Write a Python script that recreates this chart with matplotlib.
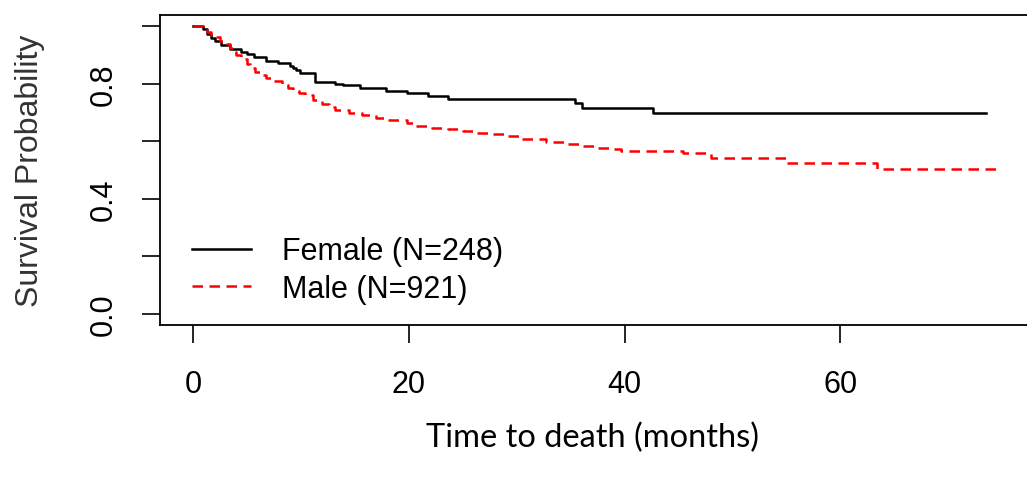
#!/usr/bin/env python3

import matplotlib
matplotlib.use('Agg')
import matplotlib.pyplot as plt

# Kaplan-Meier estimates by sex (time in months, survival probability)
female_t = [0, 0.9, 1.3, 1.7, 2.1, 2.6, 3.4, 4.5, 5.0, 5.7, 6.8, 7.9, 9.0, 9.3,
            9.6, 9.9, 11.3, 13.2, 13.9, 15.5, 17.9, 19.8, 21.8, 23.6, 35.4,
            36.1, 42.6, 73.5]
female_s = [1.0, 0.99, 0.975, 0.96, 0.95, 0.935, 0.922, 0.912, 0.905, 0.892,
            0.880, 0.874, 0.864, 0.855, 0.847, 0.838, 0.808, 0.801, 0.795,
            0.787, 0.776, 0.768, 0.757, 0.746, 0.733, 0.715, 0.697, 0.697]

male_t = [0, 0.9, 1.3, 1.7, 2.1, 2.5, 2.9, 3.4, 3.7, 4.0, 4.5, 5.0, 5.3, 5.8,
          6.2, 6.8, 7.4, 8.3, 8.8, 9.3, 9.8, 10.4, 11.1, 12.0, 12.6, 13.2,
          14.5, 15.7, 17.0, 18.2, 19.8, 20.7, 22.2, 23.6, 25.0, 26.3, 27.5,
          29.0, 30.3, 32.7, 34.5, 35.8, 37.5, 38.6, 39.7, 45.4, 48.0, 55.0,
          63.4, 75.0]
male_s = [1.0, 0.99, 0.982, 0.972, 0.962, 0.950, 0.938, 0.925, 0.912, 0.900,
          0.886, 0.870, 0.855, 0.843, 0.830, 0.820, 0.810, 0.795, 0.785, 0.775,
          0.768, 0.760, 0.744, 0.730, 0.720, 0.709, 0.700, 0.692, 0.680, 0.673,
          0.663, 0.653, 0.648, 0.642, 0.637, 0.630, 0.624, 0.618, 0.607, 0.598,
          0.590, 0.584, 0.578, 0.572, 0.566, 0.560, 0.541, 0.526, 0.502, 0.502]

labels = ['Female (N=248)', 'Male (N=921)']
xticks = [0, 20, 40, 60]
yticks = [0.0, 0.2, 0.4, 0.6, 0.8, 1.0]
yticklabels = ['0.0', '', '0.4', '', '0.8', '']

plt.rcParams['font.family'] = ['Liberation Sans', 'DejaVu Sans']

fig = plt.figure(figsize=(10.27, 4.81), dpi=100)
# box runs past the right edge of the canvas
ax = fig.add_axes([160 / 1027, 155 / 481, 886 / 1027, 310 / 481])

ax.step(female_t, female_s, where='post', color='black', lw=1.8,
        label=labels[0])
ax.step(male_t, male_s, where='post', color='red', lw=1.8,
        linestyle=(0, (4.2, 2.6)), label=labels[1])

ax.set_xlim(-3.04, 79.04)
ax.set_ylim(-0.04, 1.04)

ax.set_xticks(xticks)
ax.set_xticklabels([str(v) for v in xticks])
ax.set_yticks(yticks)
ax.set_yticklabels(yticklabels, rotation=90, va='center')

ax.tick_params(axis='both', length=13, width=1.2, direction='out',
               labelsize=22)
ax.tick_params(axis='x', pad=19)
ax.tick_params(axis='y', pad=17)
for sp in ax.spines.values():
    sp.set_linewidth(1.3)

ax.set_ylabel('Survival Probability', fontsize=23, color='#333333',
              labelpad=31)
ax.set_xlabel('Time to death (months)', fontsize=23.5, family='Lato')
ax.xaxis.label.set_va('center')
ax.xaxis.set_label_coords((592 - 160) / 886, -0.36)

ax.legend(loc='upper left', bbox_to_anchor=(0.022, 0.325), frameon=False,
          fontsize=22, handlelength=1.95, handletextpad=1.0,
          labelspacing=0.25, borderaxespad=0)

fig.savefig('out.png', dpi=100)
